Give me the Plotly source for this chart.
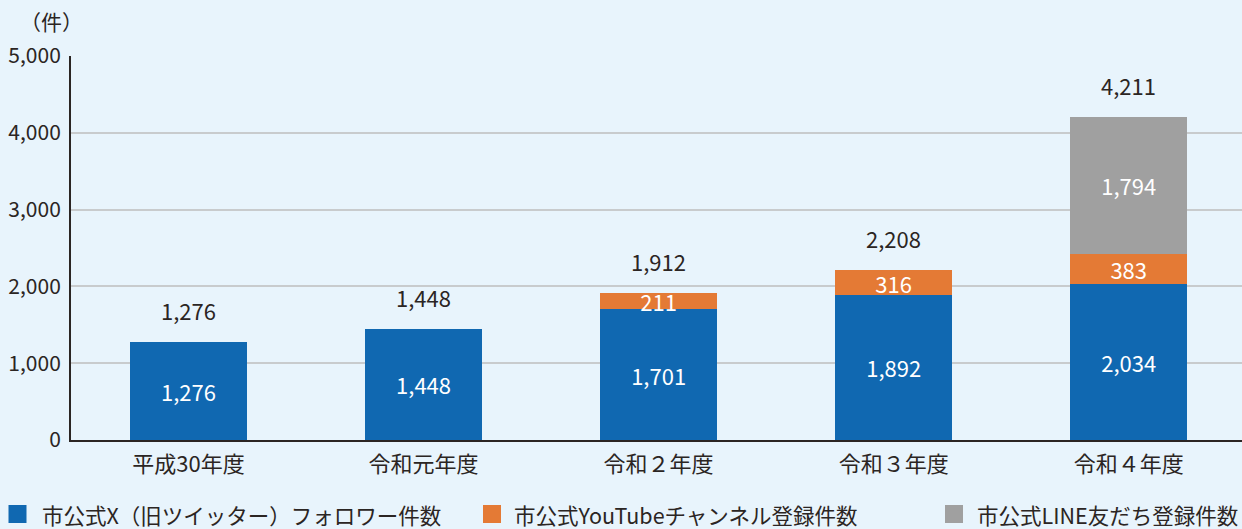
import plotly.graph_objects as go

# Fiscal years and registration counts per channel
years = ["平成30年度", "令和元年度", "令和２年度", "令和３年度", "令和４年度"]
x_followers = [1276, 1448, 1701, 1892, 2034]
youtube_subs = [None, None, 211, 316, 383]
line_friends = [None, None, None, None, 1794]

series_names = [
    "市公式X（旧ツイッター）フォロワー件数",
    "市公式YouTubeチャンネル登録件数",
    "市公式LINE友だち登録件数",
]
series_colors = ["#1068b1", "#e47a35", "#a0a0a0"]
y_ticks = [0, 1000, 2000, 3000, 4000, 5000]

FONT = "Noto Sans CJK JP"
INK = "#2b2523"
BG = "#e8f4fc"

W, H = 1242, 529
M_L, M_R, M_T, M_B = 71, 0, 56, 89

totals = [sum(v or 0 for v in vals) for vals in zip(x_followers, youtube_subs, line_friends)]


def labels(vals):
    return [f"{v:,}" if v else "" for v in vals]


fig = go.Figure()
for name, vals, color in zip(series_names, [x_followers, youtube_subs, line_friends], series_colors):
    fig.add_trace(go.Bar(
        x=years, y=vals, name=name,
        marker=dict(color=color, line=dict(width=0)),
        width=0.5,
        text=labels(vals),
        textposition="inside",
        insidetextanchor="middle",
        constraintext="none",
        textangle=0,
        insidetextfont=dict(family=FONT, size=22, color="white"),
        showlegend=False,
        hoverinfo="skip",
    ))

# Totals above each stack
for yr, tot in zip(years, totals):
    fig.add_annotation(
        x=yr, y=tot, text=f"{tot:,}", showarrow=False,
        yanchor="middle", yshift=32,
        font=dict(family=FONT, size=22, color=INK),
    )

# Legend row along the bottom
plot_h = H - M_T - M_B
plot_w = W - M_L - M_R
legend_y = -(514 - (H - M_B)) / plot_h
legend_sq = [17.5, 492, 954]
legend_txt = [40, 512, 975]
for name, color, sx, tx in zip(series_names, series_colors, legend_sq, legend_txt):
    fig.add_shape(
        type="rect", xref="paper", yref="paper",
        xsizemode="pixel", ysizemode="pixel",
        xanchor=(sx - M_L) / plot_w, yanchor=legend_y,
        x0=-9, x1=9, y0=-9, y1=9,
        fillcolor=color, line=dict(width=0),
    )
    fig.add_annotation(
        xref="paper", yref="paper",
        x=(tx - M_L) / plot_w, y=legend_y,
        xanchor="left", yanchor="middle", showarrow=False,
        text=name, font=dict(family=FONT, size=21.5, color=INK),
    )

fig.update_layout(
    width=W, height=H,
    margin=dict(l=M_L, r=M_R, t=M_T, b=M_B),
    paper_bgcolor=BG, plot_bgcolor=BG,
    barmode="stack",
    font=dict(family=FONT, size=20, color=INK),
    title=dict(
        text="（件）", xref="container", yref="container",
        x=20 / W, y=1 - 23 / H, xanchor="left", yanchor="middle",
        font=dict(family=FONT, size=21, color=INK),
    ),
    xaxis=dict(
        type="category", range=[-0.5, 4.482],
        showline=True, linecolor=INK, linewidth=2,
        ticks="", showgrid=False, ticklabelstandoff=4,
        tickfont=dict(family=FONT, size=22, color=INK),
    ),
    yaxis=dict(
        range=[0, 5000], tickvals=y_ticks, tickformat=",",
        showline=True, linecolor=INK, linewidth=2,
        ticks="", showgrid=True, gridcolor="#c8cbcd", gridwidth=1.5,
        zeroline=False, ticklabelstandoff=4,
        tickfont=dict(family=FONT, size=21, color=INK),
    ),
)

fig.write_html("out.html")
